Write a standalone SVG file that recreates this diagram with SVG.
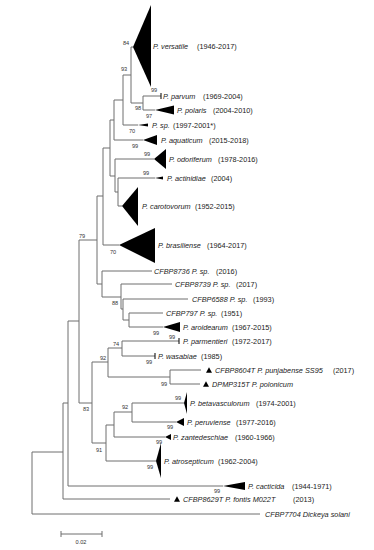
<svg xmlns="http://www.w3.org/2000/svg" width="374" height="550" viewBox="0 0 374 550">
<style>
.br{fill:none;stroke:#6e6e6e;stroke-width:1}
.cl{fill:#000}
.tk{stroke:#000;stroke-width:1}
.lb{font-family:"Liberation Sans",Arial,sans-serif;font-size:7.3px;fill:#222}
.it{font-style:italic}
.bs{font-family:"Liberation Sans",Arial,sans-serif;font-size:5.6px;fill:#333;text-anchor:middle}
</style>
<rect width="374" height="550" fill="#fff"/>
<g id="connectors" class="br">
<path d="M32 452V514M32 514H260M32 452H63"/>
<path d="M63 403V499M63 499H170M63 403H68"/>
<path d="M68 321V486M68 486H223M68 321H79"/>
<path d="M79 240V403M79 240H97"/>
<path d="M97 196V284M97 196H103"/>
<path d="M103 148V245M103 245H119M103 148H110"/>
<path d="M110 120V176M110 120H114"/>
<path d="M114 100V140M114 140H143M114 100H123"/>
<path d="M123 75V125M123 125H138M123 75H131"/>
<path d="M131 47V103M131 47H133M131 103H143"/>
<path d="M143 96V110M143 96H161M143 110H155"/>
<path d="M110 176H115M115 159V192M115 159H154M115 192H118"/>
<path d="M118 178V206M118 178H155M118 206H122"/>
<path d="M97 284H102M102 271V297M102 271H152M102 297H121"/>
<path d="M121 284V309M121 284H172M121 309H123"/>
<path d="M123 299V320M123 299H188M123 320H129"/>
<path d="M129 313V327M129 313H163M129 327H163"/>
<path d="M79 403H92M92 362V443M92 362H108M92 443H106"/>
<path d="M108 348V377M108 348H122M108 377H170"/>
<path d="M122 341V356M122 341H179M122 356H155"/>
<path d="M170 370V384M170 370H201M170 384H200"/>
<path d="M106 425V461M106 461H156M106 425H114"/>
<path d="M114 412V437M114 437H165M114 412H132"/>
<path d="M132 403V422M132 403H184M132 422H176"/>
</g>
<g id="bootstrap">
<text class="bs" x="126" y="45">84</text>
<text class="bs" x="124" y="71">93</text>
<text class="bs" x="154" y="92">99</text>
<text class="bs" x="138" y="110">98</text>
<text class="bs" x="149" y="118">97</text>
<text class="bs" x="132" y="133">70</text>
<text class="bs" x="135" y="148">99</text>
<text class="bs" x="147" y="156">99</text>
<text class="bs" x="146" y="175">99</text>
<text class="bs" x="82" y="238">79</text>
<text class="bs" x="113" y="254">70</text>
<text class="bs" x="115" y="305">88</text>
<text class="bs" x="156" y="335">99</text>
<text class="bs" x="172" y="339">99</text>
<text class="bs" x="116" y="346">74</text>
<text class="bs" x="103" y="360">92</text>
<text class="bs" x="149" y="364">99</text>
<text class="bs" x="164" y="386">99</text>
<text class="bs" x="178" y="400">99</text>
<text class="bs" x="125" y="409">92</text>
<text class="bs" x="86" y="411">83</text>
<text class="bs" x="170" y="429">99</text>
<text class="bs" x="159" y="444">99</text>
<text class="bs" x="99" y="452">91</text>
<text class="bs" x="150" y="469">99</text>
<text class="bs" x="217" y="493">99</text>
</g>
<g id="versatile"><polygon class="cl" points="133,47 151,5 151,87"/><text class="lb" y="48.6"><tspan class="it" x="153">P. versatile</tspan><tspan x="197">(1946-2017)</tspan></text></g>
<g id="parvum"><path class="tk" d="M161 93V99"/><text class="lb" y="98.6"><tspan class="it" x="163">P. parvum</tspan><tspan x="203">(1969-2004)</tspan></text></g>
<g id="polaris"><polygon class="cl" points="155,110 174,105.5 174,114.5"/><text class="lb" y="112.6"><tspan class="it" x="177">P. polaris</tspan><tspan x="213">(2004-2010)</tspan></text></g>
<g id="psp1997"><polygon class="cl" points="138,125 148,123.5 148,126.5"/><text class="lb" y="127.6"><tspan class="it" x="152">P. sp.</tspan><tspan x="173">(1997-2001*)</tspan></text></g>
<g id="aquaticum"><polygon class="cl" points="143,140 157,135 157,145"/><text class="lb" y="142.6"><tspan class="it" x="161">P. aquaticum</tspan><tspan x="209">(2015-2018)</tspan></text></g>
<g id="odoriferum"><polygon class="cl" points="154,159 166,149 166,169"/><text class="lb" y="161.6"><tspan class="it" x="169">P. odoriferum</tspan><tspan x="218">(1978-2016)</tspan></text></g>
<g id="actinidiae"><polygon class="cl" points="155,178 163,176.5 163,179.5"/><text class="lb" y="180.6"><tspan class="it" x="167">P. actinidiae</tspan><tspan x="211">(2004)</tspan></text></g>
<g id="carotovorum"><polygon class="cl" points="122,206 138,187 138,226"/><text class="lb" y="208.6"><tspan class="it" x="142">P. carotovorum</tspan><tspan x="195">(1952-2015)</tspan></text></g>
<g id="brasiliense"><polygon class="cl" points="119,245 155,228 155,263"/><text class="lb" y="247.6"><tspan class="it" x="158">P. brasiliense</tspan><tspan x="207">(1964-2017)</tspan></text></g>
<g id="cfbp8736"><text class="lb" y="273.6"><tspan class="it" x="154">CFBP8736 P. sp.</tspan><tspan x="216">(2016)</tspan></text></g>
<g id="cfbp8739"><text class="lb" y="286.6"><tspan class="it" x="175">CFBP8739 P. sp.</tspan><tspan x="236">(2017)</tspan></text></g>
<g id="cfbp6588"><text class="lb" y="301.6"><tspan class="it" x="192">CFBP6588 P. sp.</tspan><tspan x="253">(1993)</tspan></text></g>
<g id="cfbp797"><text class="lb" y="315.6"><tspan class="it" x="166">CFBP797 P. sp.</tspan><tspan x="221">(1951)</tspan></text></g>
<g id="aroidearum"><polygon class="cl" points="163,327 180,322 180,332"/><text class="lb" y="329.6"><tspan class="it" x="183">P. aroidearum</tspan><tspan x="232">(1967-2015)</tspan></text></g>
<g id="parmentieri"><path class="tk" d="M179 338V344"/><text class="lb" y="343.6"><tspan class="it" x="183">P. parmentieri</tspan><tspan x="232">(1972-2017)</tspan></text></g>
<g id="wasabiae"><path class="tk" d="M155 353V359"/><text class="lb" y="358.6"><tspan class="it" x="158">P. wasabiae</tspan><tspan x="201">(1985)</tspan></text></g>
<g id="punjabense"><polygon class="cl" points="206,372.7 212,372.7 209,367.2"/><text class="lb" y="372.6"><tspan class="it" x="215">CFBP8604T P. punjabense SS95</tspan><tspan x="333">(2017)</tspan></text></g>
<g id="polonicum"><polygon class="cl" points="203,386.7 209,386.7 206,381.2"/><text class="lb" y="386.6"><tspan class="it" x="212">DPMP315T P. polonicum</tspan></text></g>
<g id="betavasculorum"><polygon class="cl" points="184,403 187,392 187,414"/><text class="lb" y="405.6"><tspan class="it" x="190">P. betavasculorum</tspan><tspan x="256">(1974-2001)</tspan></text></g>
<g id="peruviense"><polygon class="cl" points="176,422 184,418 184,426"/><text class="lb" y="424.6"><tspan class="it" x="187">P. peruviense</tspan><tspan x="236">(1977-2016)</tspan></text></g>
<g id="zantedeschiae"><polygon class="cl" points="165,437 171,434 171,440"/><text class="lb" y="439.6"><tspan class="it" x="173">P. zantedeschiae</tspan><tspan x="235">(1960-1966)</tspan></text></g>
<g id="atrosepticum"><polygon class="cl" points="156,461 161,443 161,478"/><text class="lb" y="463.6"><tspan class="it" x="164">P. atrosepticum</tspan><tspan x="218">(1962-2004)</tspan></text></g>
<g id="cacticida"><polygon class="cl" points="223,486 245,482 245,490"/><text class="lb" y="488.6"><tspan class="it" x="248">P. cacticida</tspan><tspan x="292">(1944-1971)</tspan></text></g>
<g id="fontis"><polygon class="cl" points="174,501.7 180,501.7 177,496.2"/><text class="lb" y="501.6"><tspan class="it" x="183">CFBP8629T P. fontis M022T</tspan><tspan x="293">(2013)</tspan></text></g>
<g id="dickeya"><text class="lb it" x="265" y="516.6">CFBP7704 Dickeya solani</text></g>
<g id="scale"><path class="br" d="M61 534H102M61 531V537M102 531V537"/><text class="bs" x="81" y="544">0.02</text></g>
</svg>
